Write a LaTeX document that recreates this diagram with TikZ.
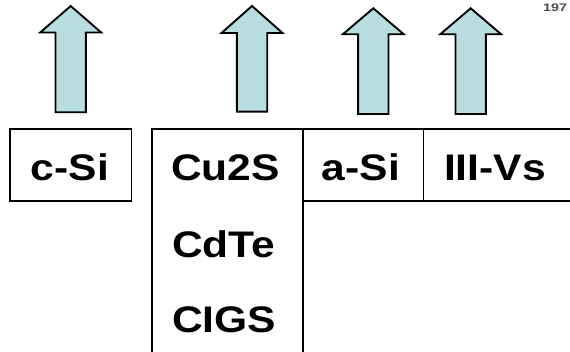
\documentclass[tikz,border=0pt]{standalone}
\usepackage{fontspec}
\setmainfont{Liberation Sans}
\usepackage{graphicx}
\definecolor{arrowfill}{RGB}{184,222,225}
\newcommand{\wtxt}[1]{\scalebox{1.15}[1]{#1}}
\begin{document}
\begin{tikzpicture}[x=1pt,y=-1pt,
  frame/.style={line width=1.8pt, draw=black},
  uparrow/.style={draw=black, line width=1.9pt, fill=arrowfill, line join=miter},
  lbl/.style={inner sep=0pt, font=\fontsize{37}{37}\selectfont\bfseries}]
\useasboundingbox (0,0) rectangle (570,352);
\fill[white] (0,0) rectangle (570,352);
% arrows
\foreach \cx/\ty/\by/\bot in {70.7/6/32.5/112.3, 252/6/33/111.7, 373.3/8.3/34.3/114, 470.7/8.3/34.3/114}{
  \draw[uparrow] (\cx,\ty) -- (\cx+30.5,\by) -- (\cx+15.2,\by) -- (\cx+15.2,\bot)
    -- (\cx-15.2,\bot) -- (\cx-15.2,\by) -- (\cx-30.5,\by) -- cycle;
}
% boxes
\draw[frame] (10,129.3) rectangle (131.5,201);
\draw[frame] (152.3,353) -- (152.3,129.3) -- (572,129.3);
\draw[frame] (302.7,353) -- (302.7,129.3);
\draw[frame] (302.7,201) -- (572,201);
\draw[frame] (423.5,129.3) -- (423.5,201);
% labels
\node[lbl, anchor=base] (csi) at (70,180.5) {\wtxt{c-Si}};
\node[lbl, anchor=base west] (cu2s) at (171,181) {\wtxt{Cu2S}};
\node[lbl, anchor=base west] (cdte) at (172,257.5) {\wtxt{CdTe}};
\node[lbl, anchor=base west] (cigs) at (172,333) {\wtxt{CIGS}};
\node[lbl, anchor=base] (asi) at (361,181) {\wtxt{a-Si}};
\node[lbl, anchor=base] (iiivs) at (495,181) {\wtxt{III-Vs}};
\node[inner sep=0pt, anchor=base west, font=\fontsize{11}{11}\selectfont\bfseries, text=black!70] (yr) at (543,12) {\scalebox{1.3}[1]{197}};
\end{tikzpicture}
\end{document}
